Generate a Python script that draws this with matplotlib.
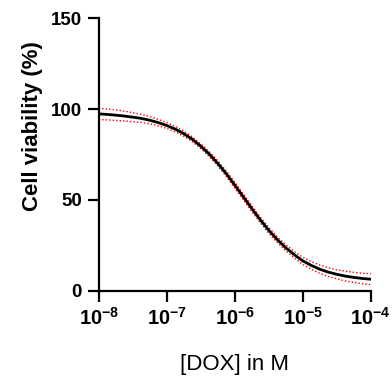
import numpy as np
import matplotlib
matplotlib.use('Agg')
import matplotlib.pyplot as plt

plt.rcParams['font.family'] = 'Liberation Sans'
plt.rcParams['mathtext.fontset'] = 'custom'
plt.rcParams['mathtext.rm'] = 'Liberation Sans'
plt.rcParams['mathtext.bf'] = 'Liberation Sans:bold'

# log10 of [DOX] (M), every 1/8 decade
log_dose = [-8.0, -7.875, -7.75, -7.625, -7.5, -7.375, -7.25, -7.125,
            -7.0, -6.875, -6.75, -6.625, -6.5, -6.375, -6.25, -6.125,
            -6.0, -5.875, -5.75, -5.625, -5.5, -5.375, -5.25, -5.125,
            -5.0, -4.875, -4.75, -4.625, -4.5, -4.375, -4.25, -4.125, -4.0]

# fitted viability (%)
viability = [97.4, 97.1, 96.7, 96.2, 95.6, 94.9, 93.9, 92.6,
             91.0, 89.0, 86.5, 83.4, 79.6, 75.2, 70.1, 64.4,
             58.1, 51.7, 45.2, 39.0, 33.2, 28.1, 23.6, 19.8,
             16.4, 13.9, 11.8, 10.2, 9.0, 8.0, 7.3, 6.7, 6.3]

# 95% confidence band
upper = [100.5, 100.1, 99.6, 98.9, 98.1, 97.1, 95.9, 94.4,
         92.6, 90.5, 87.9, 84.7, 80.9, 76.5, 71.5, 65.9,
         59.7, 53.3, 46.8, 40.6, 34.8, 29.7, 25.3, 21.6,
         18.4, 16.0, 14.1, 12.6, 11.5, 10.7, 10.1, 9.6, 9.3]
lower = [94.3, 94.1, 93.8, 93.5, 93.1, 92.7, 91.9, 90.8,
         89.4, 87.5, 85.1, 82.1, 78.3, 73.9, 68.7, 62.9,
         56.5, 50.1, 43.6, 37.4, 31.6, 26.5, 21.9, 18.0,
         14.4, 11.8, 9.5, 7.8, 6.5, 5.3, 4.5, 3.8, 3.2]

x_ticks = [1e-8, 1e-7, 1e-6, 1e-5, 1e-4]
x_tick_labels = [r'$\mathbf{10^{-8}}$', r'$\mathbf{10^{-7}}$', r'$\mathbf{10^{-6}}$',
                 r'$\mathbf{10^{-5}}$', r'$\mathbf{10^{-4}}$']
y_ticks = [0, 50, 100, 150]

dose = 10.0 ** np.array(log_dose)

fig = plt.figure(figsize=(3.92, 3.76), dpi=100)
ax = fig.add_axes([0.252, 0.227, 0.694, 0.724])

ax.plot(dose, upper, color='red', lw=1.0, ls=(0, (1, 1.5)))
ax.plot(dose, lower, color='red', lw=1.0, ls=(0, (1, 1.5)))
ax.plot(dose, viability, color='black', lw=2.0)

ax.set_xscale('log')
ax.set_xlim(1e-8, 1e-4)
ax.set_ylim(0, 150)
ax.set_xticks(x_ticks)
ax.set_xticklabels(x_tick_labels, fontsize=14.5)
ax.minorticks_off()
ax.set_yticks(y_ticks)
ax.set_yticklabels([str(v) for v in y_ticks], fontweight='bold', fontsize=13.5)
ax.tick_params(length=8, width=1.6, pad=4)

for side in ['top', 'right']:
    ax.spines[side].set_visible(False)
for side in ['left', 'bottom']:
    ax.spines[side].set_linewidth(1.6)

ax.set_ylabel('Cell viability (%)', fontsize=16, fontweight='bold')
ax.yaxis.set_label_coords(-0.205, 0.605)
ax.set_xlabel('[DOX] in M', fontsize=16, labelpad=18)

plt.savefig('out.png', dpi=100)
